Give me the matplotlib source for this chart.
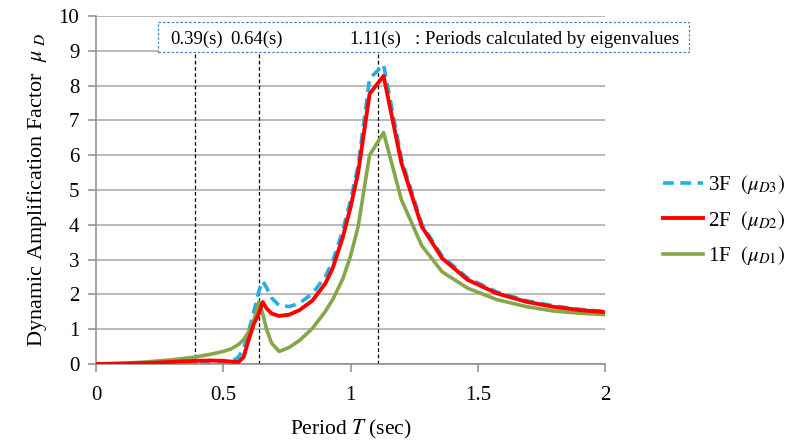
import matplotlib
matplotlib.use("Agg")
import matplotlib.pyplot as plt
from matplotlib.patches import Rectangle

plt.rcParams["font.family"] = ["Liberation Serif", "DejaVu Serif"]
plt.rcParams["mathtext.fontset"] = "stix"

# period grid (sec) and amplification factors
period = [0.0, 0.1, 0.2, 0.3, 0.39, 0.45, 0.5, 0.53, 0.56, 0.58, 0.6, 0.62,
          0.64, 0.655, 0.67, 0.69, 0.72, 0.76, 0.8, 0.85, 0.9, 0.93, 0.97,
          1.0, 1.03, 1.075, 1.13, 1.2, 1.28, 1.36, 1.46, 1.575, 1.69, 1.8,
          1.9, 2.0]
mu_3f = [0.0, 0.01, 0.02, 0.03, 0.04, 0.0, 0.0, 0.05, 0.2, 0.45, 0.95, 1.5,
         2.1, 2.38, 2.2, 1.9, 1.68, 1.65, 1.75, 2.02, 2.5, 2.95, 3.85,
         4.7, 5.7, 8.2, 8.6, 5.9, 4.02, 3.1, 2.47, 2.07, 1.82, 1.67,
         1.57, 1.51]
mu_2f = [0.0, 0.01, 0.03, 0.06, 0.09, 0.1, 0.09, 0.07, 0.06, 0.2, 0.7, 1.15,
         1.45, 1.78, 1.6, 1.45, 1.38, 1.42, 1.55, 1.82, 2.3, 2.75, 3.65,
         4.5, 5.5, 7.76, 8.28, 5.78, 3.95, 3.04, 2.42, 2.03, 1.79, 1.64,
         1.55, 1.49]
mu_1f = [0.0, 0.02, 0.06, 0.12, 0.2, 0.28, 0.36, 0.43, 0.56, 0.7, 0.92, 1.25,
         1.78, 1.45, 1.0, 0.6, 0.36, 0.48, 0.68, 1.02, 1.5, 1.85, 2.45,
         3.1, 3.95, 6.0, 6.65, 4.72, 3.4, 2.65, 2.18, 1.85, 1.65, 1.52,
         1.46, 1.42]

eigen_periods = [0.39, 0.64, 1.11]
eigen_labels = ["0.39(s)", "0.64(s)", "1.11(s)"]
note = ": Periods calculated by eigenvalues"

fig = plt.figure(figsize=(7.93, 4.43), dpi=100)
ax = fig.add_axes([96 / 793, 1 - 364 / 443, 509 / 793, 348 / 443])

ax.plot(period, mu_3f, color="#1FB0E8", lw=2.6, ls=(0, (3, 1.8)),
        label=r"3F  $(\mu_{D3})$", zorder=3)
ax.plot(period, mu_2f, color="#FF0000", lw=2.8,
        label=r"2F  $(\mu_{D2})$", zorder=4)
ax.plot(period, mu_1f, color="#86A64A", lw=2.6,
        label=r"1F  $(\mu_{D1})$", zorder=3)

for t in eigen_periods:
    ax.plot([t, t], [0, 9.0], color="black", lw=0.9, ls=(0, (3, 2)), zorder=2)

ax.set_xlim(0, 2)
ax.set_ylim(0, 10)
ax.set_xticks([0, 0.5, 1, 1.5, 2])
ax.set_xticklabels(["0", "0.5", "1", "1.5", "2"])
ax.set_yticks(range(0, 11))
ax.yaxis.grid(True, color="#A6A6A6", lw=1.1)
ax.set_axisbelow(True)
for s in ("top", "right"):
    ax.spines[s].set_visible(False)
for s in ("left", "bottom"):
    ax.spines[s].set_color("#8C8C8C")
    ax.spines[s].set_linewidth(1.1)
ax.tick_params(direction="out", length=6, color="#8C8C8C", width=1.1,
               labelsize=15)
ax.tick_params(axis="x", pad=10)
ax.tick_params(axis="y", pad=6)

ax.set_xlabel(r"Period $T$ (sec)", fontsize=15.5, labelpad=9)
ax.set_ylabel(r"Dynamic Amplification Factor  $\mu\;{}_{D}$", fontsize=16,
              labelpad=7)

# dashed note box above the plot
box = Rectangle((158 / 793, 1 - 52 / 443), 531 / 793, 30 / 443,
                transform=fig.transFigure, facecolor="white",
                edgecolor="#4F81BD", lw=0.9, ls=(0, (2, 1.5)), zorder=5)
fig.patches.append(box)
label_px = [170, 230, 349]
for px, lab in zip(label_px, eigen_labels):
    fig.text(px / 793, 1 - 39 / 443, lab, fontsize=13.5,
             ha="left", va="center", zorder=6)
fig.text(415 / 793, 1 - 39 / 443, note, fontsize=13.5, ha="left",
         va="center", zorder=6)

ax.legend(loc="center left", bbox_to_anchor=(655 / 793, 1 - 220 / 443),
          bbox_transform=fig.transFigure, frameon=False, fontsize=15,
          handlelength=1.9, handletextpad=0.25, labelspacing=0.6,
          borderaxespad=0)

fig.savefig("out.png", dpi=100)
